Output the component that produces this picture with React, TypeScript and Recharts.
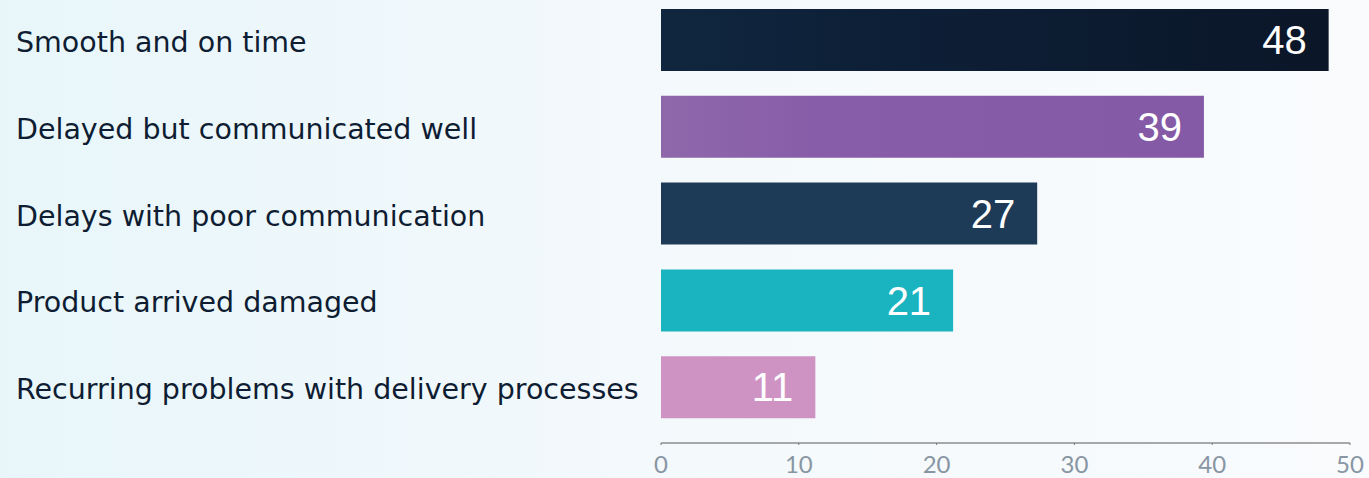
import React from 'react';
import { BarChart, Bar, XAxis, YAxis, Cell, LabelList } from 'recharts';

const categories = [
  'Smooth and on time',
  'Delayed but communicated well',
  'Delays with poor communication',
  'Product arrived damaged',
  'Recurring problems with delivery processes',
];
// bar lengths; labels show them rounded
const values = [48.45, 39.4, 27.3, 21.2, 11.2];
const barColors = ['url(#gradNavy)', 'url(#gradPurple)', '#1d3a57', '#1ab3c0', '#cf93c3'];
const xTicks = [0, 10, 20, 30, 40, 50];

const data = categories.map((name, i) => ({ name, value: values[i] }));

const LABEL_X = 16;
const textColor = '#0f1d33';
const axisColor = '#8896a4';

function CategoryTick(props: any) {
  const { y, payload } = props;
  return (
    <text
      x={LABEL_X}
      y={y}
      dy={11.5}
      textAnchor="start"
      fill={textColor}
      fontSize={28.5}
      fontFamily="'DejaVu Sans', sans-serif"
    >
      {payload.value}
    </text>
  );
}

export default function App() {
  return (
    <div
      style={{
        width: 1369,
        height: 478,
        background: 'linear-gradient(90deg, #e8f6fa 0%, #f4f9fc 50%, #f9fbfd 100%)',
      }}
    >
      <style>{'body{margin:0}'}</style>
      <BarChart
        width={1369}
        height={478}
        data={data}
        layout="vertical"
        margin={{ top: 0, right: 19, left: 0, bottom: 0 }}
      >
        <defs>
          <linearGradient id="gradNavy" x1="0" y1="0" x2="1" y2="0">
            <stop offset="0%" stopColor="#10263f" />
            <stop offset="30%" stopColor="#0d2038" />
            <stop offset="100%" stopColor="#0b1628" />
          </linearGradient>
          <linearGradient id="gradPurple" x1="0" y1="0" x2="1" y2="0">
            <stop offset="0%" stopColor="#8e68ab" />
            <stop offset="30%" stopColor="#875ca8" />
            <stop offset="100%" stopColor="#845aa6" />
          </linearGradient>
        </defs>
        <XAxis
          type="number"
          domain={[0, 50]}
          ticks={xTicks}
          height={35}
          axisLine={{ stroke: '#8c8c8c', strokeWidth: 1.5 }}
          tickLine={{ stroke: '#777777' }}
          tickSize={2}
          tick={{ fill: axisColor, fontSize: 24, fontFamily: 'Lato, sans-serif', dy: 9 }}
          interval={0}
        />
        <YAxis
          type="category"
          dataKey="name"
          width={661}
          axisLine={false}
          tickLine={false}
          tick={<CategoryTick />}
          padding={{ top: -3, bottom: 12 }}
        />
        <Bar dataKey="value" barSize={62} isAnimationActive={false}>
          {data.map((d, i) => (
            <Cell key={d.name} fill={barColors[i]} />
          ))}
          <LabelList
            dataKey="value"
            position="insideRight"
            offset={22}
            fill="#ffffff"
            fontSize={40}
            fontFamily="'Liberation Sans', Arial, sans-serif"
            formatter={(v: any) => Math.round(Number(v))}
          />
        </Bar>
      </BarChart>
    </div>
  );
}
